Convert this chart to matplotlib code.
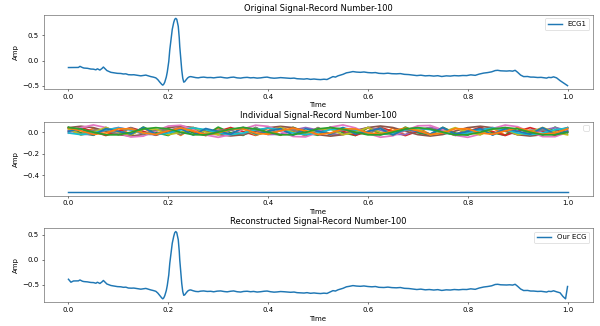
import numpy as np
import matplotlib
matplotlib.use("Agg")
import matplotlib.pyplot as plt

# ---------------- data ----------------
time = [0.000, 0.005, 0.010, 0.020, 0.023, 0.028, 0.031, 0.038, 0.045, 0.050, 0.055, 0.058, 0.063, 0.067, 0.070,
        0.074, 0.077, 0.085, 0.092, 0.098, 0.105, 0.110, 0.115, 0.120, 0.126, 0.131, 0.138, 0.145, 0.150, 0.155,
        0.160, 0.165, 0.170, 0.175, 0.179, 0.183, 0.187, 0.189, 0.191, 0.193, 0.196, 0.198, 0.201, 0.203, 0.206,
        0.208, 0.211, 0.213, 0.215, 0.217, 0.220, 0.222, 0.223, 0.225, 0.227, 0.229, 0.231, 0.233, 0.236, 0.239,
        0.242, 0.245, 0.250, 0.255, 0.260, 0.265, 0.271, 0.278, 0.285, 0.291, 0.298, 0.305, 0.312, 0.318, 0.325,
        0.331, 0.338, 0.345, 0.351, 0.358, 0.365, 0.371, 0.378, 0.385, 0.392, 0.398, 0.405, 0.412, 0.418, 0.425,
        0.432, 0.438, 0.445, 0.452, 0.458, 0.465, 0.472, 0.478, 0.485, 0.492, 0.498, 0.505, 0.512, 0.518, 0.525,
        0.530, 0.535, 0.540, 0.545, 0.550, 0.557, 0.563, 0.570, 0.577, 0.585, 0.592, 0.600, 0.608, 0.615, 0.622,
        0.632, 0.640, 0.648, 0.657, 0.665, 0.673, 0.682, 0.690, 0.698, 0.706, 0.715, 0.723, 0.732, 0.740, 0.748,
        0.757, 0.765, 0.773, 0.782, 0.790, 0.798, 0.806, 0.815, 0.823, 0.832, 0.840, 0.848, 0.855, 0.860, 0.866,
        0.872, 0.878, 0.884, 0.890, 0.895, 0.900, 0.906, 0.912, 0.920, 0.926, 0.932, 0.940, 0.947, 0.953, 0.958,
        0.962, 0.967, 0.972, 0.978, 0.985, 0.991, 0.996, 1.000]

ecg_original = [-0.140, -0.140, -0.141, -0.138, -0.116, -0.140, -0.150, -0.155, -0.170, -0.172, -0.185, -0.165, -0.190, -0.160, -0.130,
                -0.170, -0.200, -0.235, -0.245, -0.255, -0.258, -0.268, -0.265, -0.282, -0.285, -0.283, -0.295, -0.305, -0.298, -0.290,
                -0.305, -0.320, -0.330, -0.345, -0.380, -0.430, -0.475, -0.490, -0.470, -0.430, -0.330, -0.230, -0.020, 0.210, 0.450,
                0.620, 0.760, 0.820, 0.838, 0.820, 0.680, 0.450, 0.280, 0.050, -0.190, -0.350, -0.430, -0.420, -0.380, -0.345,
                -0.325, -0.320, -0.330, -0.340, -0.345, -0.335, -0.330, -0.340, -0.338, -0.345, -0.335, -0.330, -0.342, -0.348, -0.335,
                -0.330, -0.345, -0.350, -0.340, -0.335, -0.345, -0.340, -0.350, -0.345, -0.335, -0.330, -0.345, -0.352, -0.348, -0.340,
                -0.345, -0.350, -0.355, -0.350, -0.362, -0.365, -0.370, -0.362, -0.375, -0.368, -0.375, -0.380, -0.372, -0.378, -0.345,
                -0.320, -0.330, -0.305, -0.290, -0.275, -0.245, -0.235, -0.220, -0.230, -0.235, -0.228, -0.240, -0.245, -0.240, -0.255,
                -0.260, -0.252, -0.262, -0.265, -0.260, -0.275, -0.280, -0.290, -0.300, -0.292, -0.305, -0.300, -0.310, -0.302, -0.318,
                -0.305, -0.310, -0.300, -0.305, -0.298, -0.300, -0.285, -0.295, -0.270, -0.250, -0.240, -0.225, -0.200, -0.195, -0.205,
                -0.208, -0.210, -0.205, -0.212, -0.195, -0.235, -0.290, -0.320, -0.318, -0.330, -0.330, -0.338, -0.335, -0.342, -0.350,
                -0.335, -0.340, -0.325, -0.345, -0.400, -0.440, -0.475, -0.500]

ecg_reconstructed = [-0.386, -0.445, -0.420, -0.418, -0.400, -0.425, -0.432, -0.438, -0.450, -0.452, -0.465, -0.445, -0.470, -0.440, -0.410,
                     -0.450, -0.480, -0.510, -0.522, -0.532, -0.536, -0.546, -0.543, -0.560, -0.563, -0.561, -0.573, -0.583, -0.576, -0.568,
                     -0.583, -0.598, -0.610, -0.625, -0.660, -0.710, -0.758, -0.775, -0.755, -0.712, -0.612, -0.510, -0.300, -0.070, 0.170,
                     0.330, 0.470, 0.540, 0.562, 0.540, 0.400, 0.170, 0.000, -0.230, -0.470, -0.630, -0.705, -0.695, -0.655, -0.620,
                     -0.602, -0.598, -0.615, -0.628, -0.632, -0.622, -0.618, -0.628, -0.625, -0.635, -0.622, -0.618, -0.630, -0.636, -0.624,
                     -0.618, -0.634, -0.640, -0.628, -0.624, -0.634, -0.628, -0.640, -0.634, -0.624, -0.620, -0.634, -0.642, -0.638, -0.630,
                     -0.634, -0.640, -0.645, -0.640, -0.652, -0.656, -0.660, -0.652, -0.665, -0.658, -0.665, -0.670, -0.662, -0.668, -0.636,
                     -0.612, -0.620, -0.596, -0.580, -0.566, -0.536, -0.526, -0.512, -0.521, -0.526, -0.519, -0.530, -0.536, -0.530, -0.546,
                     -0.550, -0.542, -0.552, -0.556, -0.550, -0.566, -0.570, -0.580, -0.590, -0.582, -0.596, -0.590, -0.600, -0.592, -0.608,
                     -0.596, -0.600, -0.590, -0.596, -0.588, -0.590, -0.576, -0.586, -0.560, -0.540, -0.530, -0.516, -0.490, -0.486, -0.496,
                     -0.498, -0.500, -0.496, -0.502, -0.486, -0.526, -0.580, -0.610, -0.608, -0.620, -0.620, -0.628, -0.625, -0.632, -0.640,
                     -0.625, -0.630, -0.615, -0.635, -0.655, -0.730, -0.775, -0.530]

# individual components (DC term first, then oscillating components)
dc_time = [0.0, 1.0]
dc_component = [-0.555, -0.555]

components = [
    [0.038, -0.026, 0.034, -0.030, 0.040, -0.024, 0.036, -0.028, 0.033, -0.031, 0.039, -0.025, 0.035, -0.029, 0.041, -0.023, 0.034, -0.030, 0.037, -0.027, 0.040,
     -0.024, 0.033, -0.031, 0.038, -0.026, 0.036, -0.028, 0.041, -0.023, 0.034, -0.030, 0.039, -0.025, 0.035, -0.029, 0.040, -0.024, 0.033, -0.031, 0.037],
    [0.044, -0.008, -0.030, 0.042, -0.010, -0.028, 0.046, -0.006, -0.032, 0.043, -0.009, -0.029, 0.045, -0.007, -0.031, 0.041, -0.011, -0.027, 0.044, -0.008, -0.030,
     0.046, -0.006, -0.032, 0.042, -0.010, -0.028, 0.045, -0.007, -0.031, 0.043, -0.009, -0.029, 0.044, -0.008, -0.030, 0.041, -0.011, -0.027, 0.045, -0.007],
    [0.006, 0.042, 0.004, -0.032, 0.008, 0.040, 0.006, -0.030, 0.005, 0.043, 0.007, -0.033, 0.006, 0.041, 0.004, -0.031, 0.008, 0.042, 0.005, -0.032, 0.006,
     0.040, 0.007, -0.030, 0.004, 0.043, 0.006, -0.033, 0.008, 0.041, 0.005, -0.031, 0.006, 0.042, 0.004, -0.032, 0.007, 0.040, 0.006, -0.030, 0.005],
    [0.017, -0.022, -0.022, 0.017, 0.041, 0.018, -0.021, -0.023, 0.016, 0.040, 0.017, -0.022, -0.022, 0.018, 0.042, 0.016, -0.023, -0.021, 0.017, 0.041, 0.018,
     -0.022, -0.022, 0.016, 0.040, 0.017, -0.021, -0.023, 0.018, 0.042, 0.016, -0.022, -0.022, 0.017, 0.041, 0.018, -0.023, -0.021, 0.016, 0.040, 0.017],
    [0.040, 0.053, 0.040, 0.008, -0.024, -0.037, -0.024, 0.008, 0.040, 0.054, 0.041, 0.009, -0.023, -0.036, -0.025, 0.007, 0.039, 0.052, 0.040, 0.008, -0.024,
     -0.038, -0.024, 0.008, 0.041, 0.055, 0.041, 0.008, -0.024, -0.037, -0.023, 0.009, 0.040, 0.053, 0.039, 0.007, -0.025, -0.037, -0.024, 0.008, 0.040],
    [-0.010, 0.041, 0.065, 0.041, -0.010, -0.046, -0.038, 0.009, 0.055, 0.062, 0.024, -0.027, -0.049, -0.024, 0.028, 0.063, 0.052, 0.005, -0.041, -0.045, -0.006,
     0.045, 0.065, 0.038, -0.014, -0.048, -0.035, 0.013, 0.057, 0.060, 0.020, -0.030, -0.049, -0.020, 0.032, 0.064, 0.049, 0.000, -0.042, -0.043, -0.002],
    [0.041, -0.022, 0.017, 0.017, -0.022, 0.040, -0.021, 0.018, 0.016, -0.023, 0.041, -0.022, 0.017, 0.017, -0.022, 0.042, -0.021, 0.016, 0.018, -0.022, 0.040,
     -0.023, 0.017, 0.016, -0.021, 0.041, -0.022, 0.018, 0.017, -0.022, 0.040, -0.021, 0.016, 0.017, -0.023, 0.041, -0.022, 0.017, 0.018, -0.022, 0.040],
    [0.028, -0.026, -0.002, 0.041, -0.002, -0.026, 0.028, 0.027, -0.025, -0.003, 0.040, -0.001, -0.026, 0.029, 0.028, -0.026, -0.002, 0.042, -0.002, -0.027, 0.028,
     0.027, -0.025, -0.002, 0.041, -0.003, -0.026, 0.029, 0.028, -0.026, -0.001, 0.040, -0.002, -0.025, 0.027, 0.028, -0.026, -0.002, 0.041, -0.002, -0.026],
    [-0.009, -0.024, -0.009, 0.021, 0.036, 0.021, -0.008, -0.023, -0.010, 0.020, 0.037, 0.022, -0.009, -0.024, -0.009, 0.021, 0.035, 0.021, -0.009, -0.025, -0.008,
     0.022, 0.036, 0.020, -0.010, -0.024, -0.009, 0.021, 0.037, 0.021, -0.008, -0.023, -0.009, 0.020, 0.036, 0.022, -0.009, -0.024, -0.010, 0.021, 0.036],
    [0.006, 0.031, -0.029, 0.031, 0.006, -0.019, 0.041, -0.019, 0.007, 0.030, -0.028, 0.032, 0.005, -0.020, 0.040, -0.018, 0.006, 0.031, -0.029, 0.030, 0.007,
     -0.019, 0.042, -0.019, 0.006, 0.032, -0.028, 0.031, 0.005, -0.018, 0.041, -0.020, 0.006, 0.031, -0.029, 0.031, 0.007, -0.019, 0.040, -0.019, 0.006],
    [0.036, 0.011, -0.022, -0.009, 0.029, 0.029, -0.009, -0.022, 0.011, 0.037, 0.010, -0.023, -0.008, 0.028, 0.030, -0.009, -0.021, 0.012, 0.035, 0.011, -0.022,
     -0.010, 0.029, 0.028, -0.008, -0.022, 0.011, 0.036, 0.012, -0.023, -0.009, 0.030, 0.029, -0.009, -0.021, 0.010, 0.036, 0.011, -0.022, -0.009, 0.029],
    [0.041, 0.028, -0.002, -0.026, -0.026, -0.002, 0.028, 0.040, 0.029, -0.003, -0.025, -0.027, -0.001, 0.027, 0.042, 0.028, -0.002, -0.026, -0.025, -0.002, 0.029,
     0.041, 0.027, -0.003, -0.026, -0.026, -0.001, 0.028, 0.040, 0.028, -0.002, -0.027, -0.025, -0.002, 0.028, 0.041, 0.029, -0.002, -0.026, -0.026, -0.003],
]

titles = ["Original Signal-Record Number-100",
          "Individual Signal-Record Number-100",
          "Reconstructed Signal-Record Number-100"]

# ---------------- figure ----------------
plt.rcParams["lines.linewidth"] = 2.2
plt.rcParams["font.size"] = 10.5
plt.rcParams["axes.titlesize"] = 12.5
plt.rcParams["axes.edgecolor"] = "#444444"

fig, axes = plt.subplots(3, 1, figsize=(12.5, 6.7917), dpi=48)
fig.subplots_adjust(left=0.0725, right=0.9875, top=0.954, bottom=0.073, hspace=0.44)

ax = axes[0]
ax.plot(time, ecg_original, label="ECG1")
ax.set_title(titles[0])
ax.set_xlabel("Time")
ax.set_ylabel("Amp")
ax.legend(loc="upper right")

ax = axes[1]
ax.plot(dc_time, dc_component)
for comp in components:
    ax.plot(np.linspace(0, 1, len(comp)), comp, lw=2.6)
ax.set_title(titles[1])
ax.set_xlabel("Time")
ax.set_ylabel("Amp")
ax.legend(handles=[], loc="upper right")

ax = axes[2]
ax.plot(time, ecg_reconstructed, label="Our ECG")
ax.set_title(titles[2])
ax.set_xlabel("Time")
ax.set_ylabel("Amp")
ax.legend(loc="upper right")

fig.savefig("out.png", dpi=48)
